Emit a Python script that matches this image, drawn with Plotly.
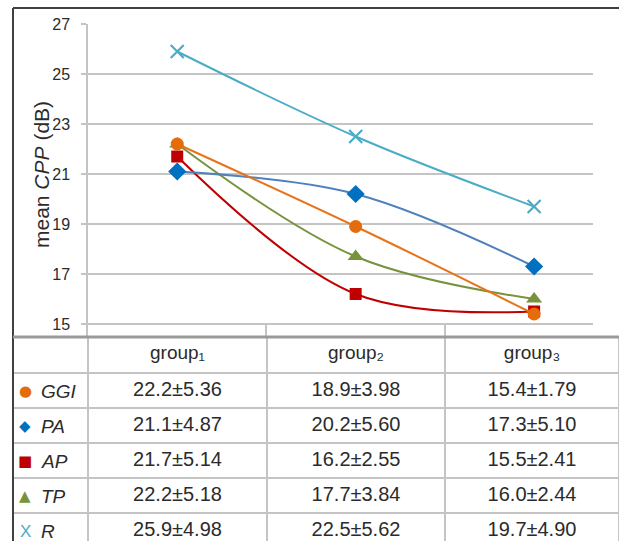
import plotly.graph_objects as go

W, H = 619, 541

# ---------------- data ----------------
categories = ["group1", "group2", "group3"]
header_labels = ["group\u2081", "group\u2082", "group\u2083"]
series_names = ["GGI", "PA", "AP", "TP", "R"]

ggi_mean = [22.2, 18.9, 15.4]
ggi_sd = [5.36, 3.98, 1.79]
pa_mean = [21.1, 20.2, 17.3]
pa_sd = [4.87, 5.60, 5.10]
ap_mean = [21.7, 16.2, 15.5]
ap_sd = [5.14, 2.55, 2.41]
tp_mean = [22.2, 17.7, 16.0]
tp_sd = [5.18, 3.84, 2.44]
r_mean = [25.9, 22.5, 19.7]
r_sd = [4.98, 5.62, 4.90]

y_ticks = [15, 17, 19, 21, 23, 25, 27]

means = [ggi_mean, pa_mean, ap_mean, tp_mean, r_mean]
sds = [ggi_sd, pa_sd, ap_sd, tp_sd, r_sd]

# ---------------- styles ----------------
FONT = "Liberation Sans, Arial, sans-serif"
TXT = "#2b2b2b"
GRID = "#c4c4c4"
line_colors = ["#E8731A", "#4F81BD", "#C00000", "#77933C", "#4BACC6"]
marker_colors = ["#E46C0A", "#0070C0", "#C00000", "#77933C", "#4BACC6"]
symbols = ["circle", "diamond", "square", "triangle-up", "x-thin"]
sizes = [13, 14, 12, 14, 13]
legend_glyphs = ["●", "◆", "■", "▲", "X"]
legend_glyph_sizes = [15, 15, 15, 15, 17]

def px_x(p):
    return p / W

def px_y(p):
    return (H - p) / H

fig = go.Figure()

x_idx = list(range(len(categories)))

# draw in reverse so GGI ends on top
for i in reversed(range(len(series_names))):
    mk = dict(symbol=symbols[i], size=sizes[i], color=marker_colors[i])
    if symbols[i] == "x-thin":
        mk["line"] = dict(color=marker_colors[i], width=2.2)
    else:
        mk["line"] = dict(width=0)
    fig.add_trace(go.Scatter(
        x=x_idx, y=means[i], mode="lines+markers",
        name=series_names[i],
        line=dict(color=line_colors[i], width=2, shape="spline", smoothing=1.0),
        marker=mk, showlegend=False, hoverinfo="skip",
    ))

# ---------------- table ----------------
first_col = ["" for _ in series_names]  # legend keys drawn as annotations

group_cols = []
for j in range(len(categories)):
    col = []
    for i in range(len(series_names)):
        col.append(f"{means[i][j]:.1f}±{sds[i][j]:.2f}")
    group_cols.append(col)

table_top = 337
header_h = 36
row_h = 35
fig.add_trace(go.Table(
    domain=dict(x=[px_x(13), 1.0], y=[0, px_y(table_top)]),
    columnwidth=[75, 179, 178, 174],
    header=dict(
        values=[""] + header_labels,
        align="center",
        height=header_h,
        font=dict(family=FONT, size=19, color=TXT),
        fill=dict(color="white"),
        line=dict(color=GRID, width=1.5),
    ),
    cells=dict(
        values=[first_col] + group_cols,
        align=["left", "center", "center", "center"],
        height=row_h,
        font=dict(family=FONT, size=20, color=TXT),
        fill=dict(color="white"),
        line=dict(color=GRID, width=1.5),
    ),
))

annotations = [dict(
    text="mean <i>CPP</i> (dB)",
    x=px_x(41), y=px_y(175), xref="paper", yref="paper",
    xanchor="center", yanchor="middle", textangle=-90,
    showarrow=False, font=dict(family=FONT, size=21, color=TXT),
)]
# legend keys (glyph + italic name) in the first table column
for i in range(len(series_names)):
    cy = table_top + header_h + row_h * (i + 0.5) + 0.5
    annotations.append(dict(
        text=legend_glyphs[i], x=px_x(25), y=px_y(cy),
        xref="paper", yref="paper", xanchor="center", yanchor="middle",
        showarrow=False,
        font=dict(family="DejaVu Sans, sans-serif" if i < 4 else FONT,
                  size=legend_glyph_sizes[i], color=marker_colors[i]),
    ))
    annotations.append(dict(
        text=f"<i>{series_names[i]}</i>", x=px_x(39), y=px_y(cy),
        xref="paper", yref="paper", xanchor="left", yanchor="middle",
        showarrow=False, font=dict(family=FONT, size=19, color=TXT),
    ))

# ---------------- layout ----------------
fig.update_layout(
    width=W, height=H,
    margin=dict(l=0, r=0, t=0, b=0),
    paper_bgcolor="white", plot_bgcolor="white",
    font=dict(family=FONT, color=TXT),
    xaxis=dict(
        domain=[px_x(88), px_x(593)],
        range=[-0.5, 2.33],
        tickvals=[0.5, 1.5],
        ticks="inside", ticklen=13, tickwidth=1.5, tickcolor=GRID,
        showticklabels=False, showgrid=False, zeroline=False, showline=False,
        fixedrange=True,
    ),
    yaxis=dict(
        domain=[px_y(table_top), px_y(24)],
        range=[14.48, 27],
        tickvals=y_ticks,
        ticks="outside", ticklen=5, tickwidth=1.5, tickcolor=GRID,
        ticklabelstandoff=8,
        tickfont=dict(family=FONT, size=16, color=TXT),
        showgrid=True, gridcolor=GRID, gridwidth=1.5,
        showline=True, linecolor=GRID, linewidth=1.5,
        zeroline=False, fixedrange=True, automargin=False,
    ),
    annotations=annotations,
    shapes=[
        dict(type="line", xref="paper", yref="paper",
             x0=px_x(13), x1=px_x(13), y0=0, y1=px_y(8),
             line=dict(color="#404040", width=2)),
        dict(type="line", xref="paper", yref="paper",
             x0=px_x(13), x1=1.0, y0=px_y(8), y1=px_y(8),
             line=dict(color="#404040", width=2)),
        dict(type="line", xref="paper", yref="paper",
             x0=px_x(13), x1=1.0, y0=px_y(table_top), y1=px_y(table_top),
             line=dict(color="#9a9a9a", width=3)),
    ],
)

fig.write_html(
    "out.html",
    config={"displayModeBar": False},
    post_script="document.body.style.margin='0';document.documentElement.style.overflow='hidden';",
)
